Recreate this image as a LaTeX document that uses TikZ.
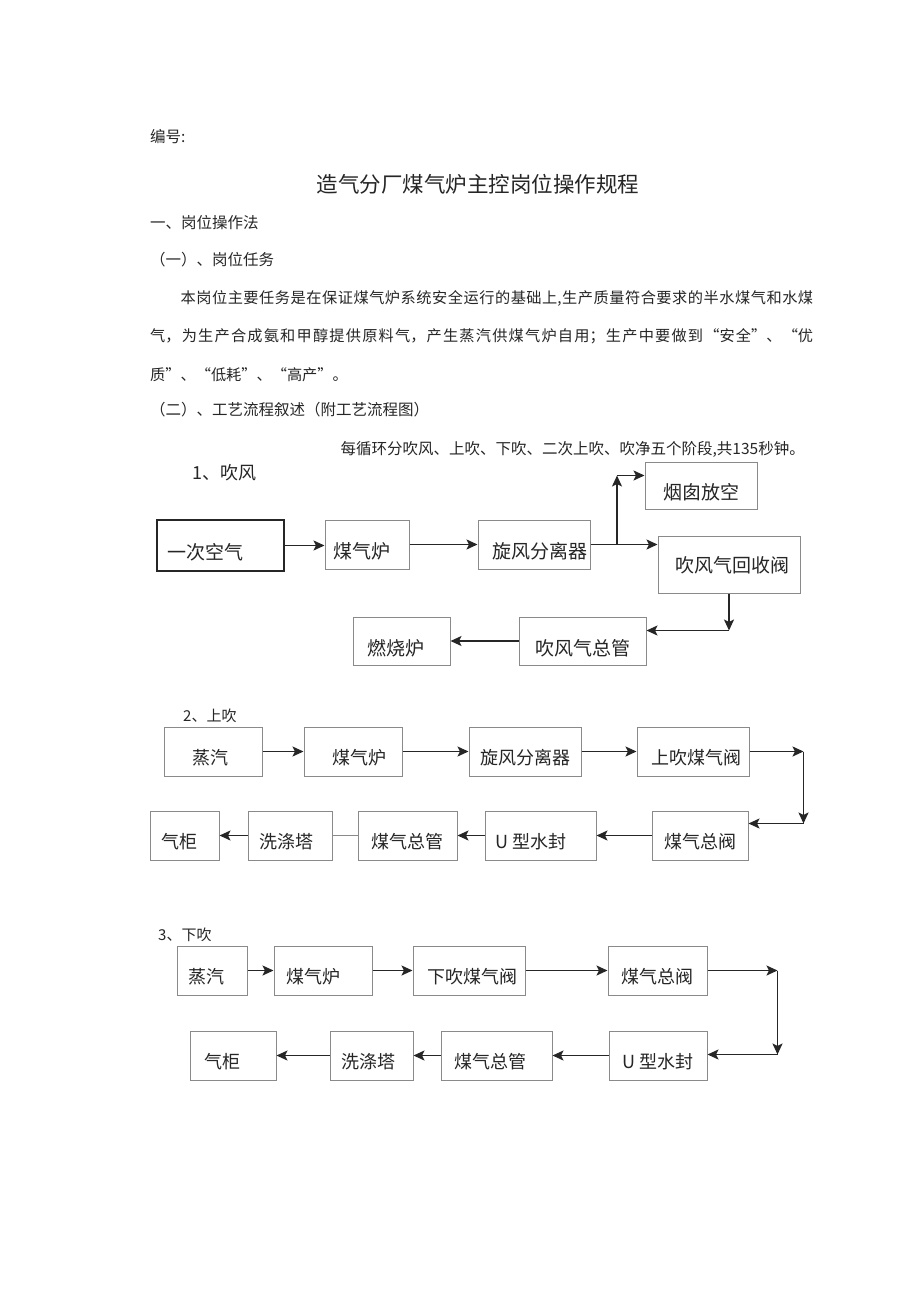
\documentclass[tikz,border=0pt]{standalone}
\usepackage{fontspec}
\setmainfont{Noto Sans CJK SC}
\XeTeXlinebreaklocale "zh"
\XeTeXlinebreakskip=0pt plus 2pt
\usetikzlibrary{arrows.meta}
\definecolor{boxline}{HTML}{8A8A8A}
\definecolor{ink}{HTML}{262626}
\tikzset{
  box/.style={draw=boxline, line width=1pt, inner sep=0pt, text=ink,
    font=\fontsize{18}{18}\selectfont, text height=26pt, text depth=0pt},
  bigbox/.style={box, font=\fontsize{19}{19}\selectfont, text height=28pt},
  nudge/.style={execute at begin node={\hspace*{#1}},
    execute at end node={\hspace*{-#1}}},
  txt/.style={anchor=west, inner sep=0pt, text=ink,
    font=\fontsize{15.5}{15.5}\selectfont},
  para/.style={anchor=north west, inner sep=0pt, text width=663pt, align=justify,
    text=ink, font=\fontsize{15.2}{38.5}\selectfont},
  flow/.style={->, line width=1.6pt, black!85}
}

\begin{document}
\begin{tikzpicture}[x=1pt, y=-1pt, >={Stealth[length=11pt,width=10pt,inset=2.5pt]}]
  \useasboundingbox[fill=white] (0,0) rectangle (920,1301);

  % heading and text
  \node[txt] (num) at (150,137) {编号:};
  \node[inner sep=0pt, text=ink, font=\fontsize{21.5}{21.5}\selectfont]
    (title) at (478,184) {造气分厂煤气炉主控岗位操作规程};
  \node[txt] (part1) at (150,223) {一、岗位操作法};
  \node[txt] (task) at (150,260) {（一）、岗位任务};
  \node[para] (body) at (150,290)
    {\hspace*{2em}本岗位主要任务是在保证煤气炉系统安全运行的基础上,生产质量符合要求的半水煤气和水煤\linebreak
     气，为生产合成氨和甲醇提供原料气，产生蒸汽供煤气炉自用；生产中要做到“安全”、“优\linebreak
     质”、“低耗”、“高产”。};
  \node[txt] (desc) at (150,410) {（二）、工艺流程叙述（附工艺流程图）};
  \node[txt, anchor=east] (cycle) at (805,449)
    {每循环分吹风、上吹、下吹、二次上吹、吹净五个阶段,共135秒钟。};

  % 1 blowing
  \node[txt, font=\fontsize{18}{18}\selectfont] (lab1) at (192,473) {1、吹风};
  \node[bigbox, draw=black!85, line width=1.8pt, minimum width=127pt, minimum height=51pt,
    nudge=-15pt] (air) at (220.5,545.5) {一次空气};
  \node[bigbox, minimum width=84pt, minimum height=49pt, nudge=-5pt]
    (fur1) at (367,544.5) {煤气炉};
  \node[bigbox, minimum width=112pt, minimum height=49pt, nudge=6pt]
    (cyc1) at (534,544.5) {旋风分离器};
  \node[bigbox, minimum width=112pt, minimum height=47pt]
    (chim) at (701,485.5) {烟囱放空};
  \node[bigbox, minimum width=142pt, minimum height=57pt, text height=15pt, nudge=3pt]
    (rec) at (729,564.5) {吹风气回收阀};
  \node[bigbox, minimum width=97pt, minimum height=48pt, nudge=-6pt]
    (burn) at (401.5,641) {燃烧炉};
  \node[bigbox, minimum width=127pt, minimum height=48pt]
    (bmain) at (582.5,641) {吹风气总管};

  \draw[flow] (air.east) -- (air.east -| fur1.west);
  \draw[flow] (fur1.east) -- (fur1.east -| cyc1.west);
  \draw[flow] (cyc1.east) -- (cyc1.east -| rec.west);
  \coordinate (split) at (617,544.5);
  \draw[flow] (split) -- ++(0,-69) coordinate (up1);
  \draw[flow] (up1) -- (up1 -| chim.west);
  \draw[flow] (rec.south) -- ++(0,37) coordinate (down1);
  \draw[flow] (down1) -- (down1 -| bmain.east);
  \draw[flow] (bmain.west) -- (bmain.west -| burn.east);

  % 2 up-run
  \node[txt, font=\fontsize{15}{15}\selectfont] (lab2) at (183,716) {2、上吹};
  \node[box, minimum width=98pt, minimum height=49pt, nudge=-3pt] (st2) at (213,751.5) {蒸汽};
  \node[box, minimum width=98pt, minimum height=49pt, nudge=6pt] (fur2) at (353,751.5) {煤气炉};
  \node[box, minimum width=112pt, minimum height=49pt] (cyc2) at (525,751.5) {旋风分离器};
  \node[box, minimum width=112pt, minimum height=49pt, nudge=3pt] (upv) at (693,751.5) {上吹煤气阀};
  \node[box, minimum width=69pt, minimum height=49pt, nudge=-5pt] (tk2) at (184.5,835.5) {气柜};
  \node[box, minimum width=84pt, minimum height=49pt, nudge=-4pt] (sc2) at (290,835.5) {洗涤塔};
  \node[box, minimum width=99pt, minimum height=49pt] (gm2) at (407.5,835.5) {煤气总管};
  \node[box, minimum width=111pt, minimum height=49pt, nudge=-10pt] (us2) at (540.5,835.5) {U 型水封};
  \node[box, minimum width=96pt, minimum height=49pt] (mv2) at (700,835.5) {煤气总阀};

  \draw[flow] (st2.east) -- (st2.east -| fur2.west);
  \draw[flow] (fur2.east) -- (fur2.east -| cyc2.west);
  \draw[flow] (cyc2.east) -- (cyc2.east -| upv.west);
  \draw[flow] (upv.east) -- ++(54,0) coordinate (r2);
  \draw[flow] (r2) -- ++(0,72) coordinate (d2);
  \draw[flow] (d2) -- (d2 -| mv2.east);
  \draw[flow] (mv2.west) -- (mv2.west -| us2.east);
  \draw[flow] (us2.west) -- (us2.west -| gm2.east);
  \draw[boxline, line width=1.2pt] (gm2.west) -- (gm2.west -| sc2.east);
  \draw[flow] (sc2.west) -- (sc2.west -| tk2.east);

  % 3 down-run
  \node[txt, font=\fontsize{15}{15}\selectfont] (lab3) at (158,935) {3、下吹};
  \node[box, minimum width=70pt, minimum height=49pt, nudge=-6pt] (st3) at (212,970.5) {蒸汽};
  \node[box, minimum width=98pt, minimum height=49pt, nudge=-10pt] (fur3) at (323,970.5) {煤气炉};
  \node[box, minimum width=112pt, minimum height=49pt, nudge=3pt] (dnv) at (469,970.5) {下吹煤气阀};
  \node[box, minimum width=99pt, minimum height=49pt] (mv3) at (657.5,970.5) {煤气总阀};
  \node[box, minimum width=86pt, minimum height=49pt, nudge=-11pt] (tk3) at (233,1055.5) {气柜};
  \node[box, minimum width=83pt, minimum height=49pt, nudge=-3pt] (sc3) at (371.5,1055.5) {洗涤塔};
  \node[box, minimum width=111pt, minimum height=49pt, nudge=-6pt] (gm3) at (496.5,1055.5) {煤气总管};
  \node[box, minimum width=98pt, minimum height=49pt] (us3) at (658,1055.5) {U 型水封};

  \draw[flow] (st3.east) -- (st3.east -| fur3.west);
  \draw[flow] (fur3.east) -- (fur3.east -| dnv.west);
  \draw[flow] (dnv.east) -- (dnv.east -| mv3.west);
  \draw[flow] (mv3.east) -- ++(70,0) coordinate (r3);
  \draw[flow] (r3) -- ++(0,84) coordinate (d3);
  \draw[flow] (d3) -- (d3 -| us3.east);
  \draw[flow] (us3.west) -- (us3.west -| gm3.east);
  \draw[flow] (gm3.west) -- (gm3.west -| sc3.east);
  \draw[flow] (sc3.west) -- (sc3.west -| tk3.east);
\end{tikzpicture}
\end{document}
